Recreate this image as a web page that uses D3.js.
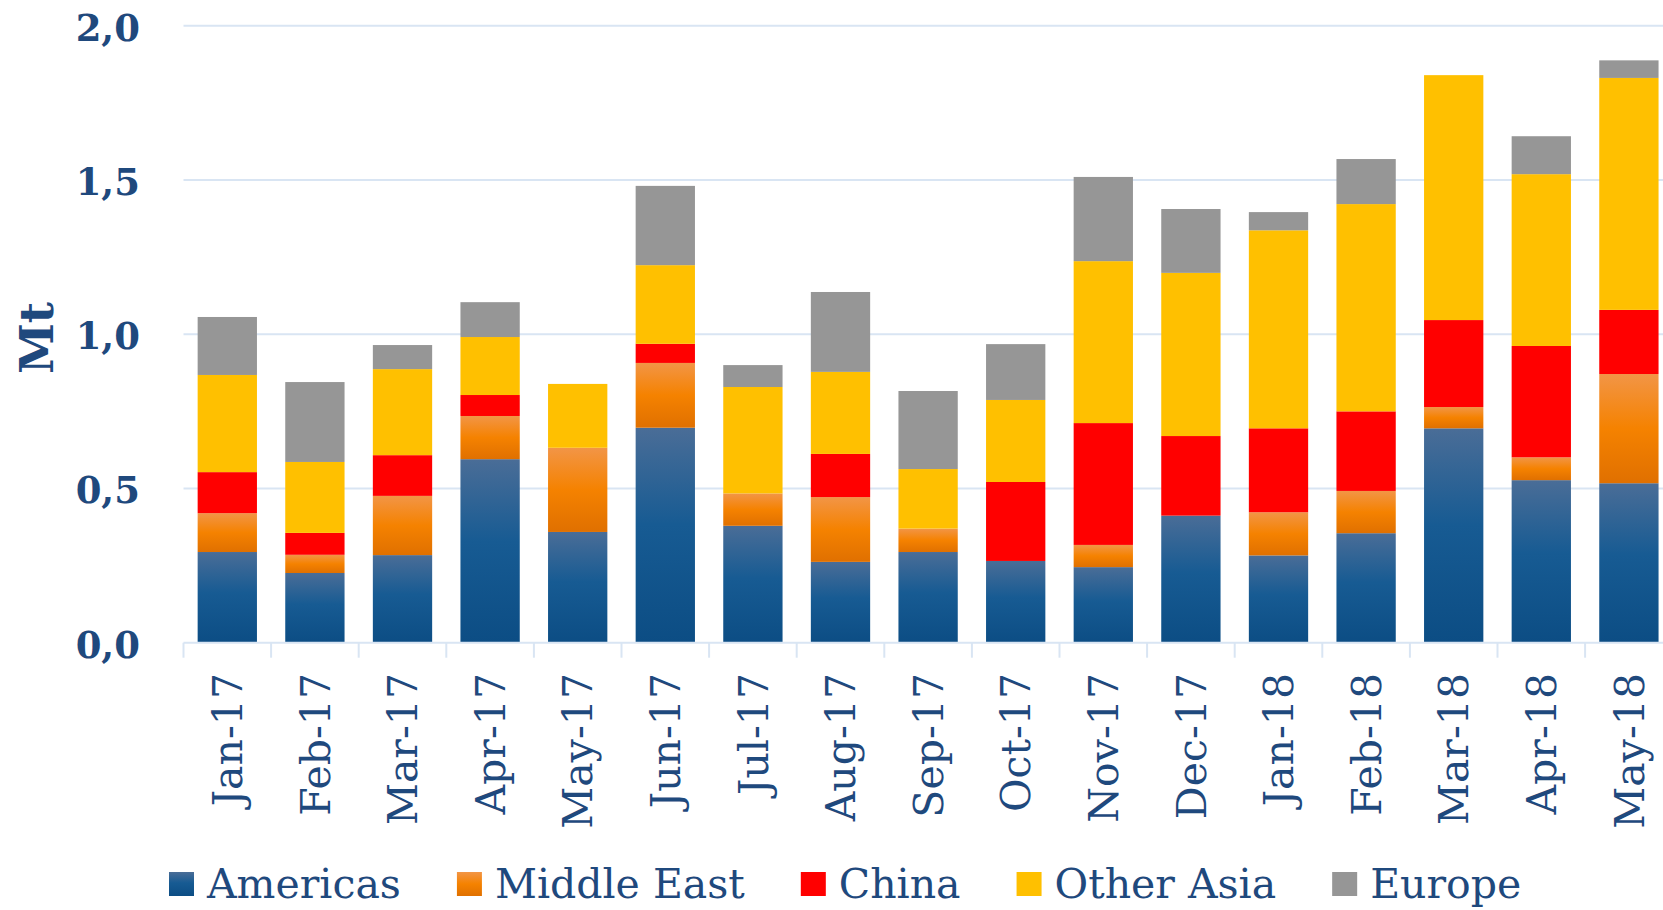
<!DOCTYPE html>
<html>
<head>
<meta charset="utf-8">
<script src="https://cdn.jsdelivr.net/npm/d3@7"></script>
<style>
  html, body { margin: 0; padding: 0; background: #ffffff; }
  svg { display: block; }
</style>
</head>
<body>
<svg id="chart" width="1663" height="910"></svg>
<script>
const months = ["Jan-17","Feb-17","Mar-17","Apr-17","May-17","Jun-17","Jul-17","Aug-17","Sep-17","Oct-17","Nov-17","Dec-17","Jan-18","Feb-18","Mar-18","Apr-18","May-18"];
const seriesNames = ["Americas","Middle East","China","Other Asia","Europe"];
const americas   = [0.294,0.226,0.284,0.595,0.359,0.697,0.379,0.262,0.294,0.265,0.245,0.412,0.283,0.355,0.695,0.527,0.517];
const middleEast = [0.126,0.059,0.192,0.140,0.273,0.210,0.105,0.210,0.076,0.000,0.072,0.000,0.140,0.137,0.069,0.074,0.354];
const china      = [0.133,0.071,0.132,0.068,0.000,0.062,0.000,0.140,0.000,0.256,0.395,0.258,0.272,0.258,0.282,0.361,0.208];
const otherAsia  = [0.315,0.230,0.279,0.188,0.207,0.255,0.345,0.266,0.193,0.266,0.525,0.529,0.642,0.672,0.794,0.557,0.752];
const europe     = [0.188,0.259,0.078,0.113,0.000,0.257,0.071,0.259,0.253,0.181,0.273,0.207,0.059,0.146,0.000,0.123,0.057];
const yTicks = [0, 0.5, 1.0, 1.5, 2.0];
const yTickLabels = ["0,0","0,5","1,0","1,5","2,0"];
const yTitle = "Mt";

const seriesValues = [americas, middleEast, china, otherAsia, europe];
const fills = ["url(#gradAm)", "url(#gradME)", "#ff0000", "#ffc000", "#969696"];
const textColor = "#1f497d";
const gridColor = "#d9e5f3";

const svg = d3.select("#chart");
const defs = svg.append("defs");
function addGrad(id, stops) {
  const g = defs.append("linearGradient").attr("id", id)
    .attr("x1", 0).attr("y1", 0).attr("x2", 0).attr("y2", 1);
  stops.forEach(s => g.append("stop").attr("offset", s[0]).attr("stop-color", s[1]));
}
addGrad("gradAm", [["0%","#4a6d97"],["45%","#175b93"],["100%","#0c4d84"]]);
addGrad("gradME", [["0%","#f29546"],["50%","#f58200"],["100%","#e07000"]]);

const plotLeft = 183.5, step = 87.6;
const x = d3.scaleBand().domain(months)
  .range([plotLeft, plotLeft + step * months.length])
  .paddingInner(0.323).paddingOuter(0.1615);
const y = d3.scaleLinear().domain([0, 2]).range([642.7, 25.8]);

// data table for stacking
const table = months.map((m, i) => {
  const o = { month: m };
  seriesNames.forEach((s, k) => o[s] = seriesValues[k][i]);
  return o;
});
const stack = d3.stack().keys(seriesNames)(table);

// gridlines
svg.append("g").selectAll("line").data(yTicks.filter(d => d > 0)).join("line")
  .attr("x1", plotLeft).attr("x2", 1663)
  .attr("y1", d => y(d)).attr("y2", d => y(d))
  .attr("stroke", gridColor).attr("stroke-width", 2);

// y tick labels
svg.append("g").selectAll("text").data(yTicks).join("text")
  .attr("x", 140).attr("y", d => y(d)).attr("dy", "0.4em")
  .attr("text-anchor", "end")
  .attr("font-family", "DejaVu Serif").attr("font-weight", "bold")
  .attr("font-size", 37).attr("fill", textColor)
  .text((d, i) => yTickLabels[i]);

// y title
svg.append("text")
  .attr("transform", `translate(53, 338) rotate(-90)`)
  .attr("text-anchor", "middle")
  .attr("font-family", "DejaVu Serif").attr("font-weight", "bold")
  .attr("font-size", 46).attr("fill", textColor)
  .text(yTitle);

// bars
svg.append("g").selectAll("g").data(stack).join("g")
  .attr("fill", (d, k) => fills[k])
  .selectAll("rect").data(d => d.filter(p => p[1] - p[0] > 0)).join("rect")
  .attr("x", d => x(d.data.month))
  .attr("width", x.bandwidth())
  .attr("y", d => y(d[1]))
  .attr("height", d => y(d[0]) - y(d[1]));

// x axis baseline and ticks
const axisG = svg.append("g");
axisG.append("line")
  .attr("x1", plotLeft).attr("x2", 1663)
  .attr("y1", y(0)).attr("y2", y(0))
  .attr("stroke", gridColor).attr("stroke-width", 2);
const boundaries = months.map(m => x(m) - x.step() * x.paddingInner() / 2);
axisG.selectAll("line.tick").data(boundaries).join("line").attr("class", "tick")
  .attr("x1", d => d).attr("x2", d => d)
  .attr("y1", y(0)).attr("y2", y(0) + 15)
  .attr("stroke", gridColor).attr("stroke-width", 2);

// x labels
svg.append("g").selectAll("text").data(months).join("text")
  .attr("transform", m => `translate(${x(m) + x.bandwidth() / 2}, 673) rotate(-90)`)
  .attr("text-anchor", "end").attr("dy", "0.36em")
  .attr("font-family", "DejaVu Serif").attr("font-size", 41)
  .attr("fill", textColor)
  .text(m => m);

// legend
const legend = svg.append("g");
let lx = 169;
seriesNames.forEach((s, k) => {
  legend.append("rect").attr("x", lx).attr("y", 872).attr("width", 25).attr("height", 24)
    .attr("fill", fills[k]);
  const t = legend.append("text").attr("x", lx + 38).attr("y", 897.5)
    .attr("font-family", "DejaVu Serif").attr("font-size", 41)
    .attr("fill", textColor).text(s);
  lx = lx + 38 + t.node().getComputedTextLength() + 56;
});
</script>
</body>
</html>
